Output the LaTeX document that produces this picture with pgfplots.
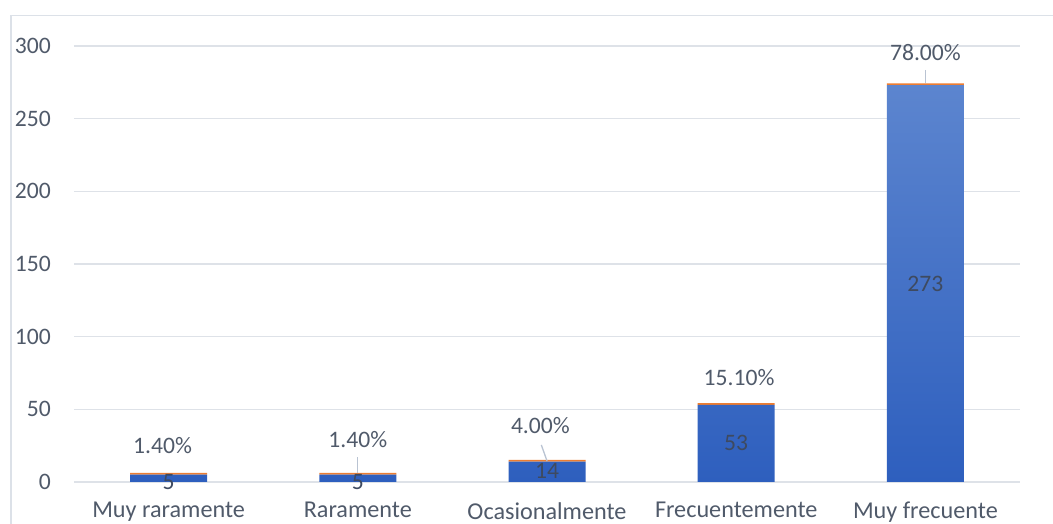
\documentclass[border=0pt]{standalone}
\usepackage{pgfplots}
\pgfplotsset{compat=1.18}
\usepackage{fontspec}
\setmainfont{Carlito}
\definecolor{txt}{RGB}{80,90,106}
\definecolor{cnt}{RGB}{62,74,96}
\definecolor{gridc}{RGB}{222,226,232}
\definecolor{framec}{RGB}{220,225,232}
\definecolor{leadc}{RGB}{185,195,210}
\definecolor{barTop}{RGB}{92,133,207}
\definecolor{barBot}{RGB}{46,95,190}
\definecolor{org}{RGB}{237,125,49}
\begin{document}
\fontsize{23.6bp}{28bp}\selectfont
\begin{tikzpicture}
\begin{axis}[
 at={(0,0)}, anchor=south west,
 scale only axis, width=946bp, height=436bp,
 xmin=-0.5, xmax=4.5, ymin=0, ymax=300,
 ybar stacked, bar width=77bp,
 xtick={0,1,2,3,4},
 xticklabels={Muy raramente, Raramente, Ocasionalmente, Frecuentemente, Muy frecuente},
 ytick={0,50,100,150,200,250,300},
 ymajorgrids, grid style={gridc, line width=1.3bp},
 axis line style={draw=none}, major tick length=0pt,
 tick label style={text=txt},
 yticklabel style={font=\fontsize{23.6bp}{28bp}\selectfont, anchor=east, inner sep=0pt, xshift=-23bp},
 xticklabel style={font=\fontsize{24.2bp}{28bp}\selectfont, anchor=north, inner sep=0pt, yshift=-20bp},
 /pgf/number format/assume math mode=true,
 clip=false,
]
\addplot[draw=none, top color=barTop, bottom color=barBot] coordinates {(0,5) (1,5) (2,14) (3,53) (4,273)};
\addplot[draw=none, fill=org] coordinates {(0,1.2) (1,1.2) (2,1.2) (3,1.2) (4,1.2)};
% positions of labels
\coordinate (c0) at (axis cs:0,0.3);
\coordinate (c1) at (axis cs:1,0.3);
\coordinate (c2) at (axis cs:2,7.6);
\coordinate (c3) at (axis cs:3,26.8);
\coordinate (c4) at (axis cs:4,136.2);
\coordinate (l1a) at (axis cs:1,17.2);
\coordinate (l1b) at (axis cs:1,6.4);
\coordinate (l2a) at (axis cs:1.97,25.5);
\coordinate (l2b) at (axis cs:2,14.5);
\coordinate (l4a) at (axis cs:4,283.5);
\coordinate (l4b) at (axis cs:4,274.3);
\coordinate (p0) at (axis cs:-0.032,24.8);
\coordinate (p1) at (axis cs:1,29.2);
\coordinate (p2) at (axis cs:1.965,38.5);
\coordinate (p3) at (axis cs:3.015,71.6);
\coordinate (p4) at (axis cs:4,295.2);
\end{axis}
% leader lines
\draw[leadc, line width=1.3bp] (l1a) -- (l1b);
\draw[leadc, line width=1.3bp] (l2a) -- (l2b);
\draw[leadc, line width=1.3bp] (l4a) -- (l4b);
% count labels
\node[text=cnt, inner sep=0pt] at (c0) {5};
\node[text=cnt, inner sep=0pt] at (c1) {5};
\node[text=cnt, inner sep=0pt] at (c2) {14};
\node[text=cnt, inner sep=0pt] at (c3) {53};
\node[text=cnt, inner sep=0pt] at (c4) {273};
% percent labels
\node[text=txt, inner sep=0pt] at (p0) {1.40\%};
\node[text=txt, inner sep=0pt] at (p1) {1.40\%};
\node[text=txt, inner sep=0pt] at (p2) {4.00\%};
\node[text=txt, inner sep=0pt] at (p3) {15.10\%};
\node[text=txt, inner sep=0pt] at (p4) {78.00\%};
\draw[framec, line width=1.3bp] (-63bp,-42bp) -- (-63bp,466.5bp) -- (979bp,466.5bp);
\pgfresetboundingbox
\useasboundingbox (-74bp,-42bp) rectangle (979bp,482bp);
\end{tikzpicture}
\end{document}
